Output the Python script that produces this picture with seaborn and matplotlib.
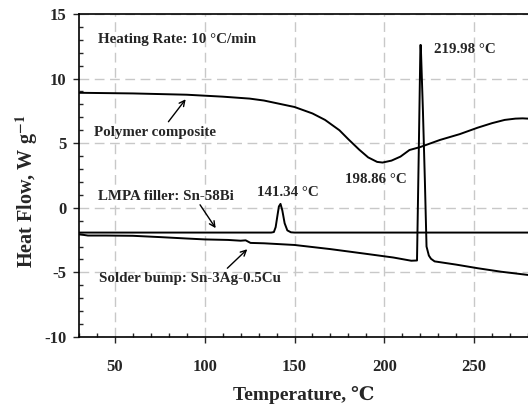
import numpy as np
import pandas as pd
import matplotlib
matplotlib.use('Agg')
import matplotlib.pyplot as plt
from matplotlib.ticker import MultipleLocator
import seaborn as sns

# DSC curves
temp_polymer = [30, 60, 90, 110, 125, 133, 150, 160, 167, 175, 180, 186, 191, 196, 199, 204, 209, 214,
                220, 226, 231, 242, 252, 260, 267, 273, 277, 280]
heat_polymer = [8.9, 8.85, 8.75, 8.6, 8.45, 8.3, 7.8, 7.3, 6.8, 6.0, 5.3, 4.5, 3.9, 3.55, 3.5, 3.65, 3.96, 4.47,
                4.7, 5.0, 5.25, 5.7, 6.2, 6.55, 6.8, 6.9, 6.92, 6.9]

temp_lmpa = [30, 100, 137, 138.5, 139.5, 140.5, 141.3, 142.2, 143.2, 144.5, 146, 148, 150, 200, 280]
heat_lmpa = [-1.92, -1.92, -1.92, -1.88, -1.5, -0.6, 0.1, 0.3, -0.2, -1.2, -1.75, -1.9, -1.92, -1.92, -1.92]

temp_solder = [30, 35, 45, 60, 75, 90, 100, 113, 120, 122.8, 125.5, 133, 150, 170, 189, 205, 215, 218.2,
               219.2, 220.1, 220.3, 221.5, 222.6, 223.5, 224.8, 226, 228, 240, 252, 265, 280]
heat_solder = [-2.05, -2.15, -2.15, -2.17, -2.27, -2.38, -2.45, -2.49, -2.55, -2.52, -2.72, -2.75, -2.88, -3.2,
               -3.55, -3.85, -4.1, -4.08, 4.5, 12.6, 12.6, 7.5, 2.0, -3.0, -3.7, -3.95, -4.15, -4.4, -4.68, -4.95, -5.2]

x_ticks = [50, 100, 150, 200, 250]
y_ticks = [-10, -5, 0, 5, 10, 15]

sns.set_style('ticks')
plt.rcParams['font.family'] = ['Liberation Serif', 'DejaVu Serif', 'Noto Sans CJK SC']
plt.rcParams['font.weight'] = 'bold'
plt.rcParams['mathtext.fontset'] = 'stix'
plt.rcParams['axes.unicode_minus'] = False

fig = plt.figure(figsize=(5.28, 4.05), dpi=100)
ax = fig.add_axes([0.1496, 0.168, 0.8504, 0.7975])

for t, h in [(temp_polymer, heat_polymer), (temp_lmpa, heat_lmpa), (temp_solder, heat_solder)]:
    df = pd.DataFrame({'T': t, 'H': h})
    sns.lineplot(data=df, x='T', y='H', ax=ax, color='black', lw=1.4, estimator=None, sort=False)

ax.set_xlim(30, 280)
ax.set_ylim(-10, 15)
ax.set_xticks(x_ticks)
ax.set_yticks(y_ticks)
ax.xaxis.set_minor_locator(MultipleLocator(10))
ax.yaxis.set_minor_locator(MultipleLocator(1))
ax.tick_params(which='major', direction='out', length=4, width=1, labelsize=12, pad=12)
ax.tick_params(axis='y', which='major', pad=5)
ax.tick_params(which='minor', direction='in', length=3, width=1)
for lab in ax.get_xticklabels() + ax.get_yticklabels():
    lab.set_fontweight('bold')

ax.grid(True, which='major', color='#c8c8c8', linestyle=(0, (7, 4)), lw=1)
ax.set_axisbelow(True)
ax.spines['right'].set_visible(False)
for s in ['left', 'bottom', 'top']:
    ax.spines[s].set_linewidth(1.2)
    ax.spines[s].set_color('black')

ax.set_xlabel('Temperature, ℃', fontsize=14, fontweight='bold', labelpad=8)
ax.set_ylabel('Heat Flow, W g$^{-1}$', fontsize=14.5, fontweight='bold')
ax.yaxis.set_label_coords(-0.087, 0.45)

fs = 10.8
ax.text(40.6, 13.0, 'Heating Rate: 10 °C/min', fontsize=fs, fontweight='bold', va='center')
ax.text(227.8, 12.27, '219.98 °C', fontsize=fs, fontweight='bold', va='center')
ax.text(178.3, 2.15, '198.86 °C', fontsize=fs, fontweight='bold', va='center')
ax.text(129.3, 1.15, '141.34 °C', fontsize=fs, fontweight='bold', va='center')

arrow = dict(arrowstyle='->', color='black', lw=1, shrinkA=0, shrinkB=0)
ax.annotate('', xy=(89.4, 8.4), xytext=(79.8, 6.66), arrowprops=arrow)
ax.text(38.5, 5.81, 'Polymer composite', fontsize=fs, fontweight='bold', va='center')
ax.annotate('', xy=(106.1, -1.58), xytext=(97.4, 0.23), arrowprops=arrow)
ax.text(40.6, 0.91, 'LMPA filler: Sn-58Bi', fontsize=fs, fontweight='bold', va='center')
ax.annotate('', xy=(123.7, -3.21), xytext=(112.6, -4.68), arrowprops=arrow)
ax.text(40.9, -5.46, 'Solder bump: Sn-3Ag-0.5Cu', fontsize=fs, fontweight='bold', va='center')

fig.savefig('out.png', dpi=100)
